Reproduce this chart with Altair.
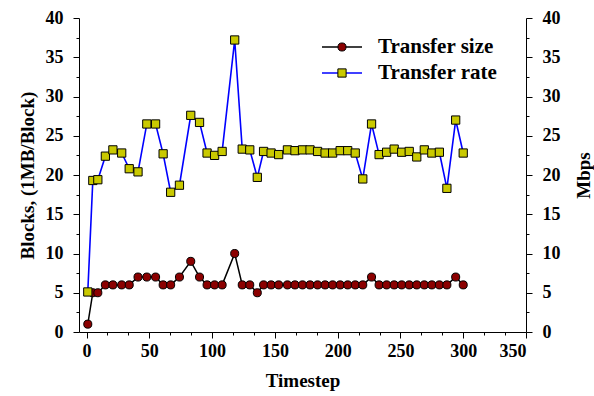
import altair as alt
import pandas as pd

timestep = [1, 5, 9, 15, 21, 28, 34, 41, 48, 55, 61, 67, 74, 83, 90, 96, 102, 108, 118, 124,
            130, 136, 141, 147, 153, 160, 166, 172, 178, 184, 190, 196, 202, 208, 214, 220,
            227, 233, 239, 245, 251, 257, 263, 269, 275, 281, 287, 294, 300]
transfer_size = [1, 5, 5, 6, 6, 6, 6, 7, 7, 7, 6, 6, 7, 9, 7, 6, 6, 6, 10, 6,
                 6, 5, 6, 6, 6, 6, 6, 6, 6, 6, 6, 6, 6, 6, 6, 6,
                 7, 6, 6, 6, 6, 6, 6, 6, 6, 6, 6, 7, 6]
transfer_rate = [5.1, 19.3, 19.4, 22.4, 23.2, 22.8, 20.8, 20.4, 26.5, 26.5, 22.7, 17.8, 18.7,
                 27.6, 26.7, 22.8, 22.5, 23.0, 37.2, 23.3, 23.2, 19.7, 23.0, 22.8, 22.6, 23.2,
                 23.1, 23.2, 23.2, 23.0, 22.8, 22.8, 23.1, 23.1, 22.8, 19.5, 26.5, 22.6, 22.9,
                 23.3, 22.9, 23.0, 22.3, 23.2, 22.8, 22.9, 18.3, 27.0, 22.8]
series_names = ["Transfer size", "Transfer rate"]

df = pd.DataFrame({"t": timestep, "size": transfer_size, "rate": transfer_rate})

FONT = "Liberation Serif"
x_ticks = [i * 50 / 3 for i in range(22)]
y_ticks = [i * 2.5 for i in range(17)]

tick_size_x = {"condition": {"test": "abs(datum.value/50 - round(datum.value/50)) < 0.001", "value": 6}, "value": 3}
tick_size_y = {"condition": {"test": "datum.value % 5 === 0", "value": 6}, "value": 3}

x_enc = alt.X("t:Q", scale=alt.Scale(domain=[-6, 350], nice=False, zero=False),
              axis=alt.Axis(title="Timestep", values=x_ticks, tickSize=tick_size_x,
                            labelExpr="abs(datum.value/50 - round(datum.value/50)) < 0.001 ? format(round(datum.value), 'd') : ''",
                            grid=False, labelPadding=4, titlePadding=11))

size_chart = alt.Chart(df).mark_line(
    color="black", strokeWidth=1.5,
    point=alt.OverlayMarkDef(filled=True, fill="#8B0000", stroke="black", strokeWidth=1, size=65, shape="circle", opacity=1)
).encode(
    x=x_enc,
    y=alt.Y("size:Q", scale=alt.Scale(domain=[0, 40], nice=False),
            axis=alt.Axis(title="Blocks, (1MB/Block)", orient="left", values=y_ticks, tickSize=tick_size_y,
                          labelExpr="datum.value % 5 === 0 ? datum.label : ''", grid=False,
                          labelPadding=10, titleX=-52, titleY=157, titleAngle=270,
                          titleAlign="center", titleBaseline="middle")),
)

rate_chart = alt.Chart(df).mark_line(
    color="#0000FF", strokeWidth=1.6,
    point=alt.OverlayMarkDef(filled=True, fill="#C9C900", stroke="black", strokeWidth=1, size=68, shape="square", opacity=1)
).encode(
    x=x_enc,
    y=alt.Y("rate:Q", scale=alt.Scale(domain=[0, 40], nice=False),
            axis=alt.Axis(title="Mbps", orient="right", values=y_ticks, tickSize=tick_size_y,
                          labelExpr="datum.value % 5 === 0 ? datum.label : ''", grid=False,
                          labelPadding=10, titleX=57, titleY=157, titleAngle=270,
                          titleAlign="center", titleBaseline="middle")),
)

leg_df = pd.DataFrame({"name": series_names})

def legend_row(i, line_color, fill, shape, size):
    row = leg_df.iloc[[i]]
    yv = 29 + i * 26
    line = alt.Chart(row).mark_rule(color=line_color, strokeWidth=1.5).encode(
        x=alt.value(243), x2=alt.value(283), y=alt.value(yv))
    pt = alt.Chart(row).mark_point(filled=True, fill=fill, stroke="black", strokeWidth=1,
                                   size=size, shape=shape, opacity=1).encode(
        x=alt.value(263), y=alt.value(yv))
    txt = alt.Chart(row).mark_text(align="left", baseline="middle", font=FONT, fontWeight="bold",
                                   fontSize=21, color="black").encode(
        x=alt.value(299), y=alt.value(yv), text="name:N")
    return line + pt + txt

legend = legend_row(0, "black", "#8B0000", "circle", 65) + legend_row(1, "#0000FF", "#C9C900", "square", 68)

chart = alt.layer(size_chart, rate_chart, legend).resolve_scale(y="independent").properties(
    width=447, height=314,
    autosize=alt.AutoSizeParams(type="none"),
    padding={"left": 79, "top": 18, "right": 68, "bottom": 64},
    background="white",
).configure_view(stroke=None).configure_axis(
    labelFont=FONT, titleFont=FONT, labelFontSize=18, titleFontSize=19,
    labelFontWeight="bold", titleFontWeight="bold", labelColor="black", titleColor="black",
    domainColor="black", tickColor="black", domainWidth=1, tickWidth=1,
)

chart.save("out.html", embed_options={"renderer": "svg", "actions": False})
